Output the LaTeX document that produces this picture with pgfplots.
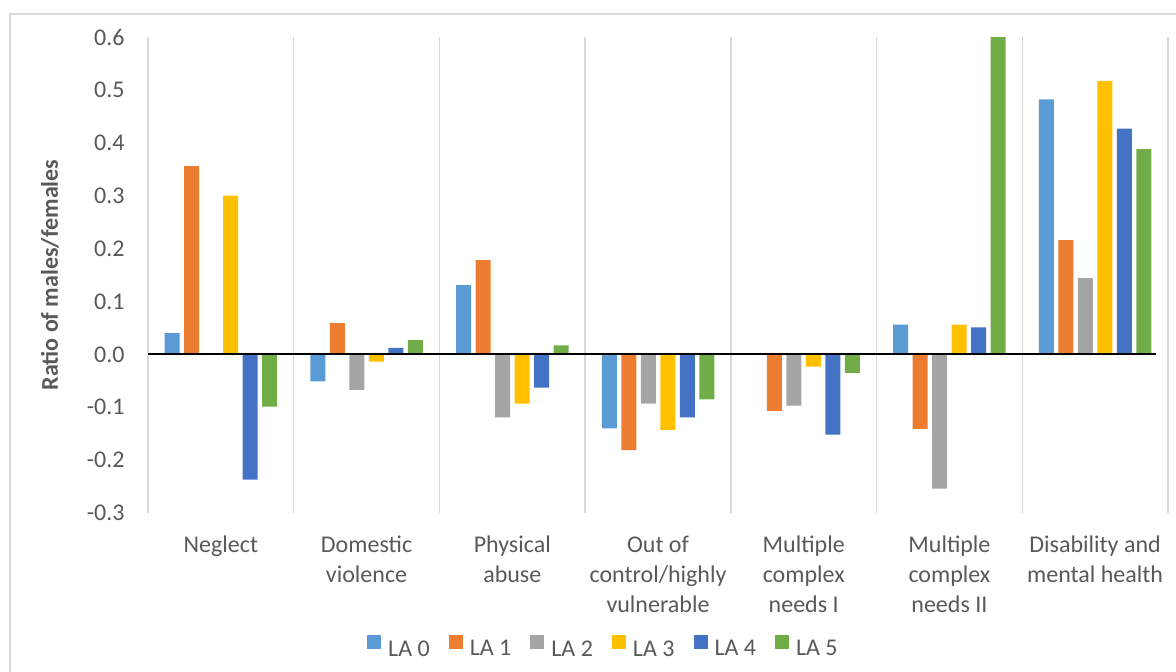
\documentclass[border=0pt]{standalone}
\usepackage{fontspec}
\setmainfont{Carlito}
\usepackage{pgfplots}
\pgfplotsset{compat=1.18}

\definecolor{la0}{HTML}{5B9BD5}
\definecolor{la1}{HTML}{ED7D31}
\definecolor{la2}{HTML}{A5A5A5}
\definecolor{la3}{HTML}{FFC000}
\definecolor{la4}{HTML}{4472C4}
\definecolor{la5}{HTML}{70AD47}
\definecolor{txt}{HTML}{595959}
\definecolor{gridc}{HTML}{D9D9D9}

\begin{document}
\fontsize{12}{15}\selectfont
\begin{tikzpicture}
\useasboundingbox (0,0) rectangle (588pt,-335.5pt);
\draw[gridc, line width=1pt] (5pt,-340pt) |- (592pt,-7pt);
\begin{axis}[
    at={(74pt,-18.5pt)}, anchor=north west,
    scale only axis,
    width=510pt, height=238pt,
    ybar=2.25pt, bar width=7.5pt,
    xmin=-0.5, xmax=6.5,
    ymin=-0.3, ymax=0.6,
    xtick={0,1,2,3,4,5,6},
    xticklabels={Neglect, Domestic\\violence, Physical\\abuse,
        Out of\\control/highly\\vulnerable, Multiple\\complex\\needs I,
        Multiple\\complex\\needs II, Disability and\\mental health},
    minor xtick={-0.5,0.5,1.5,2.5,3.5,4.5,5.5,6.5},
    xminorgrids=true,
    minor grid style={gridc, line width=0.75pt},
    ytick={-0.3,-0.2,-0.1,0,0.1,0.2,0.3,0.4,0.5,0.6},
    axis line style={draw=none},
    tick style={draw=none},
    major tick length=0pt, minor tick length=0pt,
    /pgf/number format/assume math mode=true,
    yticklabel style={/pgf/number format/.cd, fixed, fixed zerofill, precision=1,
        /tikz/.cd, text=txt, xshift=-7.5pt},
    xticklabel style={align=center, text=txt, yshift=-7.4pt},
    ylabel={\bfseries Ratio of males/females},
    ylabel style={at={(axis description cs:-0.0961,0.5)}, anchor=center, text=txt},
    legend style={at={(axis description cs:0.447,-0.2857)}, anchor=center,
        draw=none, fill=none, text=txt,
        /tikz/every odd column/.append style={column sep=2pt},
        /tikz/every even column/.append style={column sep=8pt},
        nodes={inner sep=1.5pt}},
    legend columns=-1,
    legend image code/.code={\fill[#1] (0pt,0.35pt) rectangle (7pt,7.35pt);},
    ]
    \addplot[fill=la0, draw=none] coordinates {
        (0,0.040) (1,-0.051) (2,0.131) (3,-0.140) (4,0) (5,0.056) (6,0.482)};
    \addplot[fill=la1, draw=none] coordinates {
        (0,0.356) (1,0.059) (2,0.178) (3,-0.181) (4,-0.107) (5,-0.141) (6,0.216)};
    \addplot[fill=la2, draw=none] coordinates {
        (0,0) (1,-0.067) (2,-0.119) (3,-0.093) (4,-0.097) (5,-0.254) (6,0.144)};
    \addplot[fill=la3, draw=none] coordinates {
        (0,0.300) (1,-0.014) (2,-0.093) (3,-0.143) (4,-0.023) (5,0.056) (6,0.517)};
    \addplot[fill=la4, draw=none] coordinates {
        (0,-0.237) (1,0.012) (2,-0.063) (3,-0.119) (4,-0.152) (5,0.051) (6,0.427)};
    \addplot[fill=la5, draw=none] coordinates {
        (0,-0.099) (1,0.027) (2,0.017) (3,-0.085) (4,-0.035) (5,0.600) (6,0.388)};
    \legend{LA 0, LA 1, LA 2, LA 3, LA 4, LA 5}
    \draw[black, line width=1pt] (axis cs:-0.5,0) -- (axis cs:6.42,0);
\end{axis}
\end{tikzpicture}
\end{document}
